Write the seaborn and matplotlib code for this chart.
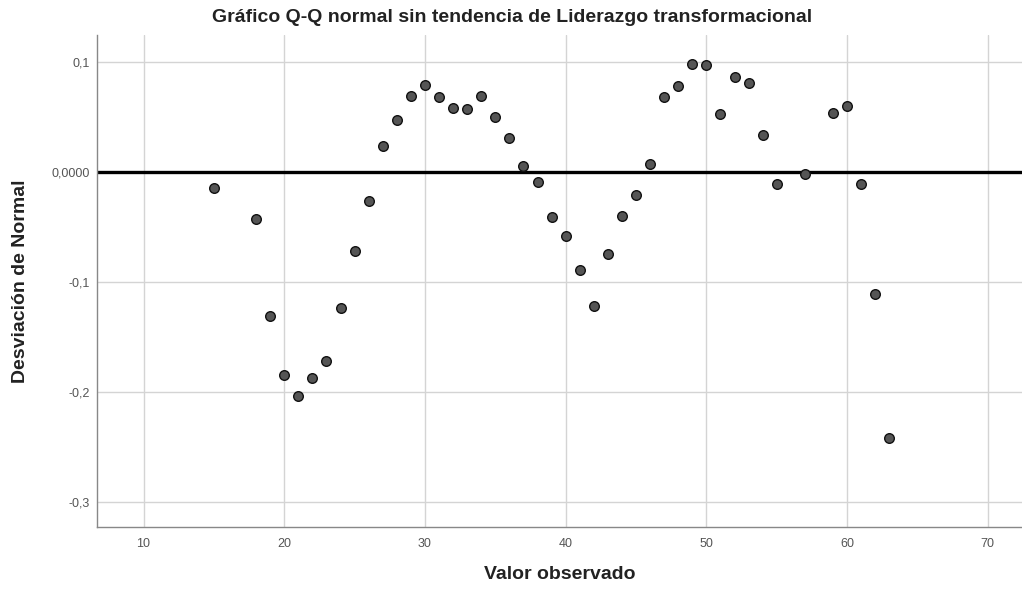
import pandas as pd
import numpy as np
import matplotlib
matplotlib.use('Agg')
import matplotlib.pyplot as plt
import seaborn as sns

# стиль в духе SPSS
sns.set_theme(style='white')
plt.rcParams['font.family'] = ['Liberation Sans', 'DejaVu Sans']

# данные
valor_observado = [15, 18, 19, 20, 21, 22, 23, 24, 25, 26, 27, 28, 29, 30, 31, 32, 33, 34,
                   35, 36, 37, 38, 39, 40, 41, 42, 43, 44, 45, 46, 47, 48, 49, 50, 51, 52,
                   53, 54, 55, 57, 59, 60, 61, 62, 63]
desviacion = [-0.015, -0.043, -0.131, -0.185, -0.204, -0.187, -0.172, -0.124, -0.072, -0.026,
              0.024, 0.047, 0.069, 0.079, 0.068, 0.058, 0.057, 0.069, 0.050, 0.031,
              0.005, -0.009, -0.041, -0.058, -0.089, -0.122, -0.075, -0.040, -0.021, 0.007,
              0.068, 0.078, 0.098, 0.097, 0.053, 0.086, 0.081, 0.034, -0.011, -0.002,
              0.054, 0.060, -0.011, -0.111, -0.242]

x_ticks = [10, 20, 30, 40, 50, 60, 70]
y_ticks = [0.1, 0.0, -0.1, -0.2, -0.3]
y_tick_labels = ['0,1', '0,0000', '-0,1', '-0,2', '-0,3']

df = pd.DataFrame({'Valor observado': valor_observado, 'Desviación de Normal': desviacion})

fig = plt.figure(figsize=(10.22, 5.89), dpi=100)
ax = fig.add_axes([96.7 / 1022, 1 - 526.7 / 589, 1 - 96.7 / 1022, (526.7 - 35) / 589])

# сетка
ax.set_axisbelow(True)
ax.grid(True, color='#d4d4d4', linewidth=1.0)

# линия нуля
ax.axhline(0, color='black', linewidth=2.4, zorder=2)

sns.scatterplot(data=df, x='Valor observado', y='Desviación de Normal', ax=ax,
                s=48, color='#555555', edgecolor='#111111', linewidth=1.0, zorder=3)

ax.set_xlim(6.67, 72.43)
ax.set_ylim(-0.3225, 0.1245)
ax.set_xticks(x_ticks)
ax.set_xticklabels([str(t) for t in x_ticks])
ax.set_yticks(y_ticks)
ax.set_yticklabels(y_tick_labels)
ax.tick_params(axis='both', labelsize=9, colors='#555555', length=0)
ax.tick_params(axis='x', pad=8)
ax.tick_params(axis='y', pad=5)

for side in ['top', 'right']:
    ax.spines[side].set_visible(False)
for side in ['left', 'bottom']:
    ax.spines[side].set_color('#888888')
    ax.spines[side].set_linewidth(1.0)

ax.set_xlabel('Valor observado', fontsize=14, fontweight='bold', color='#222222', labelpad=12)
ax.set_ylabel('Desviación de Normal', fontsize=14, fontweight='bold', color='#222222', labelpad=16)

fig.text(0.501, 0.971, 'Gráfico Q-Q normal sin tendencia de Liderazgo transformacional',
         ha='center', va='center', fontsize=14, fontweight='bold', color='#222222')

fig.savefig('out.png', dpi=100)
